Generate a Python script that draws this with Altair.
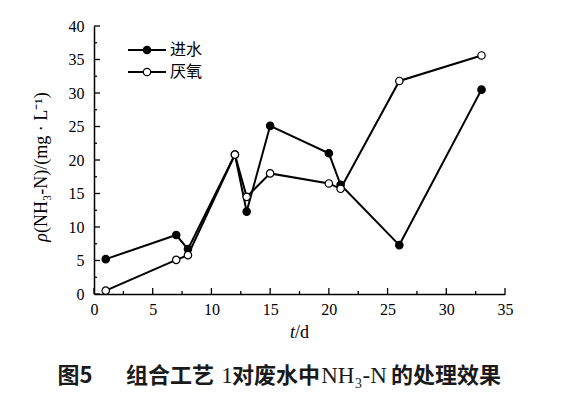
import altair as alt
import pandas as pd

# ---- data ----
days = [1, 7, 8, 12, 13, 15, 20, 21, 26, 33]
influent = [5.2, 8.8, 6.7, 20.8, 12.3, 25.1, 21.0, 16.3, 7.3, 30.5]
anaerobic = [0.5, 5.1, 5.8, 20.8, 14.5, 18.0, 16.5, 15.7, 31.8, 35.6]
series_names = ["进水", "厌氧"]
x_major = [0, 5, 10, 15, 20, 25, 30, 35]
x_minor = [2.5, 7.5, 12.5, 17.5, 22.5, 27.5, 32.5]
y_major = [0, 5, 10, 15, 20, 25, 30, 35, 40]
y_minor = [2.5, 7.5, 12.5, 17.5, 22.5, 27.5, 32.5, 37.5]
y_title = "(NH₃-N)/(mg · L⁻¹)"
x_title_rest = "/d"
caption_parts = ["图5", "组合工艺", "1", "对废水中", "NH₃-N", "的处理效果"]

W, H = 411, 268
SERIF = "Liberation Serif"
CJK = "Noto Sans CJK SC"

df = pd.DataFrame({
    "t": days * 2,
    "v": influent + anaerobic,
    "s": [series_names[0]] * len(days) + [series_names[1]] * len(days),
})

xs = alt.Scale(domain=[0, 35], nice=False, zero=False)
ys = alt.Scale(domain=[0, 40], nice=False, zero=False)
fill_scale = alt.Scale(domain=series_names, range=["black", "white"])

x_axis = alt.Axis(
    values=x_major, ticks=False, grid=False, domainColor="black", domainWidth=1.5,
    labelFont=SERIF, labelFontSize=16, labelColor="black", labelPadding=7, title=None,
    labelFlush=False)
y_axis = alt.Axis(
    values=y_major, ticks=False, grid=False, domainColor="black", domainWidth=1.5,
    labelFont=SERIF, labelFontSize=16, labelColor="black", labelPadding=10, title=None,
    labelFlush=False)


def X(field):
    return alt.X(field, scale=xs, axis=x_axis)


def Y(field):
    return alt.Y(field, scale=ys, axis=y_axis)


base = alt.Chart(df)
lines = base.mark_line(color="black", strokeWidth=2).encode(x=X("t:Q"), y=Y("v:Q"), detail="s:N")
points = base.mark_circle(size=55, stroke="black", strokeWidth=1.2, opacity=1).encode(
    x=X("t:Q"), y=Y("v:Q"),
    fill=alt.Fill("s:N", scale=fill_scale, legend=None),
)

layers = [lines, points]

# ticks (inward), drawn from tick value lists
for vals, length in [(x_major, 6), (x_minor, 3)]:
    layers.append(alt.Chart(pd.DataFrame({"t": vals})).mark_rule(color="black", strokeWidth=1.3).encode(
        x=X("t:Q"), y=alt.value(H), y2=alt.value(H - length)))
for vals, length in [(y_major, 6), (y_minor, 3)]:
    layers.append(alt.Chart(pd.DataFrame({"v": vals})).mark_rule(color="black", strokeWidth=1.3).encode(
        y=Y("v:Q"), x=alt.value(0), x2=alt.value(length)))

# legend
for i, name in enumerate(series_names):
    ly = 24 + 22 * i
    ldf = pd.DataFrame({"s": [name]})
    lc = alt.Chart(ldf)
    layers.append(lc.mark_rule(color="black", strokeWidth=2).encode(
        x=alt.value(34), x2=alt.value(72), y=alt.value(ly)))
    layers.append(lc.mark_circle(size=55, stroke="black", strokeWidth=1.2, opacity=1).encode(
        x=alt.value(53), y=alt.value(ly), fill=alt.Fill("s:N", scale=fill_scale, legend=None)))
    layers.append(lc.mark_text(align="left", baseline="middle", font=CJK, fontSize=16, color="black").encode(
        x=alt.value(76), y=alt.value(ly), text="s:N"))

one = pd.DataFrame({"a": [0]})
# y-axis title: italic rho + rest, rotated
layers.append(alt.Chart(one).mark_text(angle=270, align="right", baseline="middle", font=SERIF,
                                       fontSize=18, fontStyle="italic", color="black", text="ρ").encode(
    x=alt.value(-52), y=alt.value(207)))
layers.append(alt.Chart(one).mark_text(angle=270, align="left", baseline="middle", font=SERIF,
                                       fontSize=18, color="black", text=y_title).encode(
    x=alt.value(-52), y=alt.value(207)))
# x-axis title
layers.append(alt.Chart(one).mark_text(align="right", baseline="middle", font=SERIF,
                                       fontSize=18, fontStyle="italic", color="black", text="t").encode(
    x=alt.value(201), y=alt.value(307)))
layers.append(alt.Chart(one).mark_text(align="left", baseline="middle", font=SERIF,
                                       fontSize=18, color="black", text=x_title_rest).encode(
    x=alt.value(201), y=alt.value(307)))

# caption, in segments (CJK bold sans, Latin serif), centred at given x
cap_x = [-19, 76, 133, 182, 260, 352]
cap_serif = [False, False, True, False, True, False]
for part, px, serif in zip(caption_parts, cap_x, cap_serif):
    if serif:
        mk = alt.Chart(one).mark_text(align="center", baseline="middle", font=SERIF, fontSize=23,
                                      color="#1a1a1a", text=part)
    else:
        mk = alt.Chart(one).mark_text(align="center", baseline="middle", font=CJK, fontSize=22,
                                      fontWeight="bold", color="#1a1a1a", text=part)
    layers.append(mk.encode(x=alt.value(px), y=alt.value(350)))

chart = alt.layer(*layers).properties(
    width=W, height=H,
    autosize=alt.AutoSizeParams(type="none"),
    padding={"left": 86, "top": 18, "right": 61, "bottom": 100},
    background="white",
).configure_view(stroke=None)

chart.save("out.html", embed_options={"renderer": "svg", "actions": False})
